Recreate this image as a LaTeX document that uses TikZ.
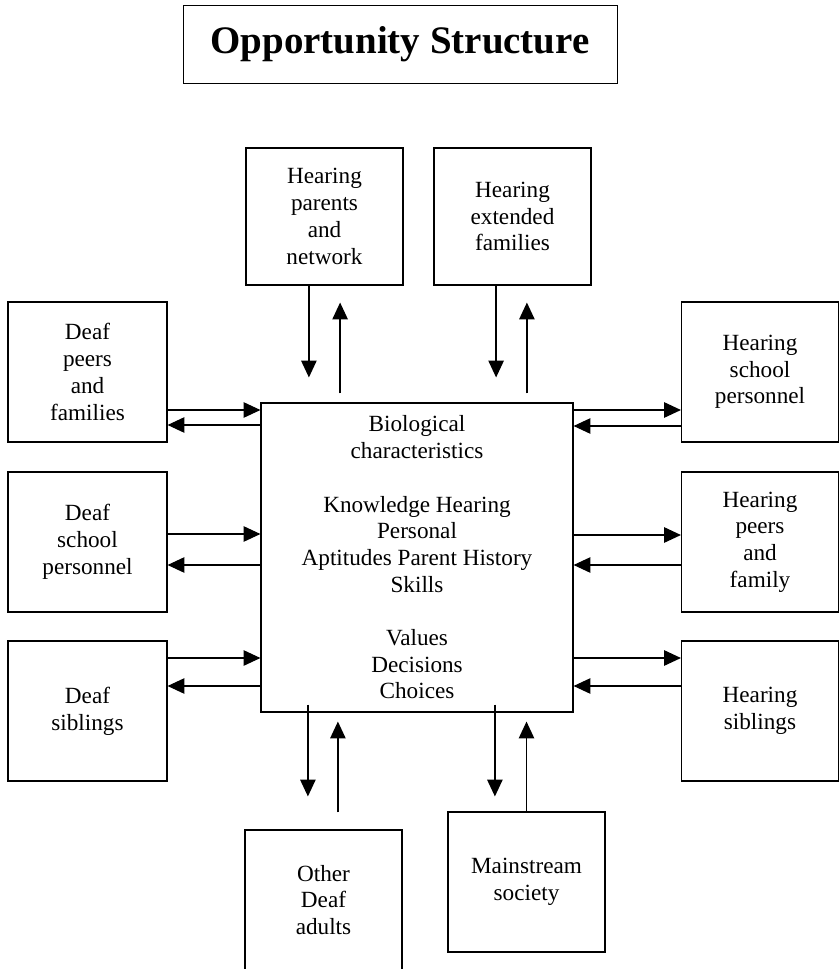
\documentclass[tikz,border=0pt]{standalone}
\usepackage{fontspec}
\setmainfont{Liberation Serif}
\usepackage{tikz}
\usetikzlibrary{arrows.meta,positioning}

\begin{document}
\begin{tikzpicture}[
  box/.style={draw, line width=0.8pt, minimum width=3.975cm, minimum height=3.5cm,
    align=center, inner sep=2pt, font=\fontsize{16.5}{19}\selectfont},
  arr/.style={line width=0.9pt, -{Triangle[length=12pt,width=11pt]}}
]
  \useasboundingbox (0,0) rectangle (20.975,-24.225);

  % Title
  \node[draw, line width=0.7pt, minimum width=10.85cm, minimum height=1.95cm,
    font=\fontsize{27.7}{32}\selectfont\bfseries] (title) at (10.0,-1.1) {Opportunity Structure};

  % Centre box
  \node[box, minimum width=7.8cm, minimum height=7.725cm] (core) at (10.425,-13.9375)
    {Biological\\ characteristics\\[19pt]
     Knowledge Hearing\\ Personal\\ Aptitudes Parent History\\ Skills\\[19pt]
     Values\\ Decisions\\ Choices};

  % Top boxes
  \node[box, minimum width=3.925cm, minimum height=3.425cm] (hpar) at (8.1125,-5.4125)
    {Hearing\\ parents\\ and\\ network};
  \node[box, minimum width=3.925cm, minimum height=3.425cm] (hext) at (12.8125,-5.4125)
    {Hearing\\ extended\\ families};

  % Left boxes
  \node[box] (dpeer) at (2.1875,-9.3) {Deaf\\ peers\\ and\\ families};
  \node[box] (dschool) at (2.1875,-13.55) {Deaf\\ school\\ personnel};
  \node[box] (dsib) at (2.1875,-17.775) {Deaf\\ siblings};

  % Right boxes
  \node[box, minimum width=3.925cm] (hschool) at (19.0,-9.3) {Hearing\\ school\\ personnel};
  \node[box, minimum width=3.925cm] (hpeer) at (19.0,-13.55) {Hearing\\ peers\\ and\\ family};
  \node[box, minimum width=3.925cm] (hsib) at (19.0,-17.775) {Hearing\\ siblings};

  % Bottom boxes
  \node[box, minimum width=3.925cm] (oadult) at (8.0875,-22.5) {Other\\ Deaf\\ adults};
  \node[box, minimum width=3.925cm] (mainst) at (13.1625,-22.05) {Mainstream\\ society};

  % Arrows to and from the top boxes
  \draw[arr] ([xshift=-0.39cm]hpar.south) -- ([xshift=-0.39cm,yshift=0.625cm]hpar.south |- core.north);
  \draw[arr] ([xshift=0.39cm,yshift=0.225cm]hpar.south |- core.north) -- ([xshift=0.39cm,yshift=-0.425cm]hpar.south);
  \draw[arr] ([xshift=-0.41cm]hext.south) -- ([xshift=-0.41cm,yshift=0.625cm]hext.south |- core.north);
  \draw[arr] ([xshift=0.36cm,yshift=0.225cm]hext.south |- core.north) -- ([xshift=0.36cm,yshift=-0.425cm]hext.south);

  % Arrows to and from the left boxes
  \draw[arr] ([yshift=-0.95cm]dpeer.east) -- ([yshift=-0.95cm]dpeer.east -| core.west);
  \draw[arr] ([yshift=-1.325cm]dpeer.east -| core.west) -- ([yshift=-1.325cm]dpeer.east);
  \draw[arr] ([yshift=0.2cm]dschool.east) -- ([yshift=0.2cm]dschool.east -| core.west);
  \draw[arr] ([yshift=-0.575cm]dschool.east -| core.west) -- ([yshift=-0.575cm]dschool.east);
  \draw[arr] ([yshift=1.325cm]dsib.east) -- ([yshift=1.325cm]dsib.east -| core.west);
  \draw[arr] ([yshift=0.625cm]dsib.east -| core.west) -- ([yshift=0.625cm]dsib.east);

  % Arrows to and from the right boxes
  \draw[arr] ([yshift=-0.95cm]hschool.west -| core.east) -- ([yshift=-0.95cm]hschool.west);
  \draw[arr] ([yshift=-1.35cm]hschool.west) -- ([yshift=-1.35cm]hschool.west -| core.east);
  \draw[arr] ([yshift=0.175cm]hpeer.west -| core.east) -- ([yshift=0.175cm]hpeer.west);
  \draw[arr] ([yshift=-0.575cm]hpeer.west) -- ([yshift=-0.575cm]hpeer.west -| core.east);
  \draw[arr] ([yshift=1.325cm]hsib.west -| core.east) -- ([yshift=1.325cm]hsib.west);
  \draw[arr] ([yshift=0.625cm]hsib.west) -- ([yshift=0.625cm]hsib.west -| core.east);

  % Arrows to and from the bottom boxes
  \draw[arr] ([xshift=-0.39cm,yshift=0.2cm]oadult.north |- core.south) -- ([xshift=-0.39cm,yshift=0.825cm]oadult.north);
  \draw[arr] ([xshift=0.36cm,yshift=0.425cm]oadult.north) -- ([xshift=0.36cm,yshift=-0.225cm]oadult.north |- core.south);
  \draw[arr] ([xshift=-0.79cm,yshift=0.2cm]mainst.north |- core.south) -- ([xshift=-0.79cm,yshift=0.375cm]mainst.north);
  \draw[arr] (mainst.north) -- ([yshift=-0.225cm]mainst.north |- core.south);

\end{tikzpicture}
\end{document}
